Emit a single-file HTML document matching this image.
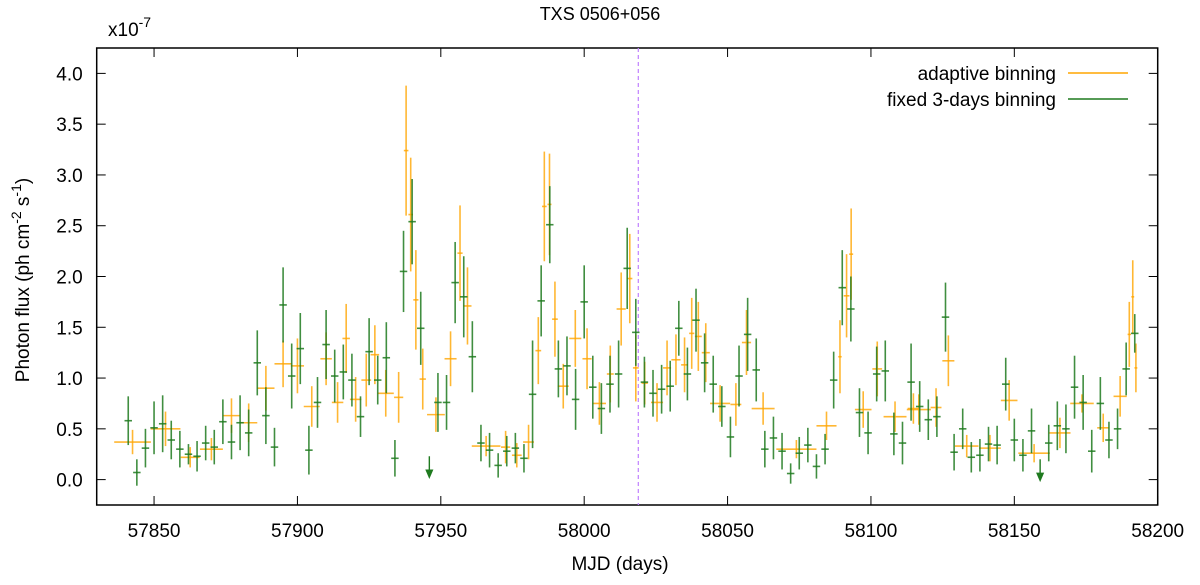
<!DOCTYPE html>
<html><head><meta charset="utf-8"><style>
body{margin:0;background:#fff;}
svg text{font-family:"Liberation Sans",sans-serif;fill:#000;}
</style></head><body>
<svg id="chart" width="1200" height="580" xmlns="http://www.w3.org/2000/svg">
<text x="600" y="20" text-anchor="middle" font-size="18">TXS 0506+056</text>
<text x="108" y="36" font-size="19">x10<tspan dy="-9" font-size="14">-7</tspan></text>
<text x="620" y="570" text-anchor="middle" font-size="19">MJD (days)</text>
<text transform="translate(29,280) rotate(-90)" text-anchor="middle" font-size="19">Photon flux (ph cm<tspan dy="-8" font-size="14">-2</tspan><tspan dy="8"> s</tspan><tspan dy="-8" font-size="14">-1</tspan><tspan dy="8">)</tspan></text>
<g id="axes"></g>
<g id="marks"></g>
<g>
<text x="1056" y="80" text-anchor="end" font-size="19">adaptive binning</text>
<line x1="1068" y1="73" x2="1128" y2="73" stroke="#ffa500" stroke-width="1.5"/>
<text x="1056" y="106" text-anchor="end" font-size="19">fixed 3-days binning</text>
<line x1="1068" y1="99" x2="1128" y2="99" stroke="#1f7a1f" stroke-width="1.5"/>
</g>
</svg>
<script>
const xTicks=[57850,57900,57950,58000,58050,58100,58150,58200];
const yTicks=[0,0.5,1,1.5,2,2.5,3,3.5,4];
const yTickLabels=["0.0","0.5","1.0","1.5","2.0","2.5","3.0","3.5","4.0"];
const eventMJD=58018.87;
// fixed 3-day bins: day, flux, error
const gDay=[57841,57844,57847,57850,57853,57856,57859,57862,57865,57868,57871,57874,57877,57880,57883,57886,57889,57892,57895,57898,57901,57904,57907,57910,57913,57916,57919,57922,57925,57928,57931,57934,57937,57940,57943,57949,57952,57955,57958,57961,57964,57967,57970,57973,57976,57979,57982,57985,57988,57991,57994,57997,58000,58003,58006,58009,58012,58015,58018,58021,58024,58027,58030,58033,58036,58039,58042,58045,58048,58051,58054,58057,58060,58063,58066,58069,58072,58075,58078,58081,58084,58087,58090,58093,58096,58099,58102,58105,58108,58111,58114,58117,58120,58123,58126,58129,58132,58135,58138,58141,58144,58147,58150,58153,58156,58162,58165,58168,58171,58174,58177,58180,58183,58186,58189,58192];
const gFlux=[0.58,0.07,0.31,0.51,0.55,0.39,0.30,0.25,0.23,0.36,0.32,0.57,0.37,0.56,0.46,1.15,0.63,0.32,1.72,1.02,1.29,0.29,0.76,1.33,1.02,1.06,0.98,0.62,1.26,0.98,1.20,0.21,2.05,2.54,1.49,0.76,0.76,1.94,1.80,1.21,0.36,0.29,0.14,0.28,0.31,0.21,0.84,1.76,2.51,1.09,1.12,0.79,1.75,0.91,0.70,0.94,1.04,2.08,1.45,0.96,0.85,0.89,0.92,1.49,1.04,1.57,1.15,0.94,0.72,0.42,1.02,1.43,1.08,0.30,0.41,0.28,0.06,0.26,0.34,0.13,0.30,0.98,1.89,1.68,0.66,0.46,1.04,1.07,0.45,0.36,0.96,0.72,0.59,0.62,1.60,0.27,0.50,0.22,0.24,0.35,0.34,0.94,0.39,0.24,0.48,0.36,0.53,0.50,0.91,0.76,0.28,0.75,0.39,0.50,1.09,1.44];
const gErr=[0.24,0.13,0.19,0.26,0.28,0.19,0.18,0.10,0.15,0.17,0.17,0.22,0.17,0.27,0.23,0.32,0.28,0.19,0.37,0.32,0.35,0.24,0.25,0.34,0.26,0.27,0.26,0.20,0.33,0.24,0.35,0.18,0.40,0.42,0.36,0.29,0.27,0.40,0.40,0.35,0.18,0.17,0.12,0.15,0.15,0.14,0.53,0.35,0.38,0.28,0.29,0.30,0.36,0.31,0.25,0.28,0.33,0.40,0.33,0.25,0.23,0.24,0.25,0.27,0.26,0.31,0.29,0.28,0.20,0.20,0.30,0.36,0.31,0.18,0.21,0.18,0.10,0.16,0.17,0.12,0.15,0.28,0.37,0.32,0.24,0.21,0.27,0.30,0.21,0.21,0.38,0.25,0.20,0.20,0.34,0.18,0.20,0.15,0.16,0.17,0.19,0.26,0.21,0.16,0.22,0.18,0.24,0.24,0.31,0.27,0.21,0.26,0.18,0.20,0.26,0.19];
// upper limits (fixed binning): day, flux
const ulDay=[57946,58159];
const ulFlux=[0.23,0.2];
// adaptive bins: center day, half width, flux, error
const oDay=[57842.5,57854,57862.6,57870,57877,57883,57889,57895,57900,57905,57910,57914,57917,57920.3,57924,57927,57930.8,57935.3,57937.9,57939.5,57941.3,57943.7,57948.3,57953.4,57956.7,57959.3,57965.8,57972.6,57976.5,57980.6,57984,57986.1,57987.9,57989.8,57992.7,57996.9,58001,58005.3,58009.1,58012.9,58015.9,58018,58021.1,58025.4,58028.9,58032,58035,58037.5,58039.8,58042.4,58047.4,58052.9,58056.6,58062.4,58074,58084.5,58089.2,58091.5,58093.1,58097.3,58102.2,58108.4,58114.8,58116.7,58122.7,58127,58133.4,58141.5,58148.2,58156.9,58165.9,58173.6,58181,58186.9,58190.1,58191.3,58192.4];
const oHalf=[6.4,5.2,3.3,4,3,3,3,3,2.3,2.8,2,2,1.3,2,1.7,1.5,2.8,1.6,0.8,0.8,0.9,1.1,3.1,2.1,0.9,1.4,5,1.6,1.7,1.9,1,0.8,0.7,1,1.9,2.1,1.6,2.3,1.2,1.6,0.9,1,1.1,2.1,1.4,1.6,1.2,0.9,1.2,1.4,3.5,1.9,1.6,4,7,3.5,0.6,1,0.7,2.9,1.7,4,2,4.2,1.9,2.1,4.1,3.8,2.9,5.5,3.7,4.1,2.1,2.3,0.6,0.5,0.5];
const oFlux=[0.37,0.50,0.22,0.30,0.63,0.56,0.90,1.14,1.12,0.72,1.19,0.76,1.39,0.79,0.98,1.23,0.85,0.81,3.24,2.61,1.77,0.99,0.64,1.19,2.23,1.71,0.33,0.32,0.24,0.37,1.27,2.69,2.71,1.58,0.92,1.39,1.19,0.75,1.04,1.68,1.98,1.10,0.95,0.76,1.10,1.18,1.13,1.44,1.41,1.25,0.75,0.74,1.35,0.70,0.30,0.53,1.21,1.81,2.22,0.69,1.09,0.62,0.70,0.69,0.71,1.17,0.33,0.31,0.78,0.26,0.46,0.75,0.51,0.82,1.43,1.80,1.10];
const oErr=[0.12,0.17,0.10,0.11,0.17,0.19,0.22,0.23,0.27,0.20,0.26,0.20,0.34,0.22,0.26,0.29,0.23,0.25,0.64,0.56,0.49,0.30,0.17,0.27,0.47,0.38,0.10,0.16,0.12,0.17,0.33,0.54,0.50,0.37,0.22,0.28,0.30,0.21,0.28,0.36,0.44,0.33,0.21,0.19,0.27,0.25,0.27,0.35,0.34,0.29,0.18,0.21,0.32,0.16,0.09,0.14,0.36,0.41,0.45,0.18,0.27,0.15,0.15,0.15,0.19,0.25,0.11,0.13,0.20,0.09,0.15,0.09,0.14,0.20,0.32,0.36,0.24];

const X0=96.7,X1=1157.7,Y0=505,Y1=48,XMIN=57830,XMAX=58200,YMIN=-0.25,YMAX=4.25;
const sx=d=>X0+(d-XMIN)/(XMAX-XMIN)*(X1-X0);
const sy=v=>Y0-(v-YMIN)/(YMAX-YMIN)*(Y0-Y1);
const NS="http://www.w3.org/2000/svg";
function mk(tag,parent,attrs){const e=document.createElementNS(NS,tag);for(const k in attrs)e.setAttribute(k,attrs[k]);parent.appendChild(e);return e;}
const axes=document.getElementById('axes'),marks=document.getElementById('marks');

xTicks.forEach(t=>{
  const x=sx(t);
  const a=mk('line',axes,{x1:x,x2:x,y1:Y0,y2:Y0-9,stroke:'#000','stroke-width':1});
  
  
  const b=mk('line',axes,{x1:x,x2:x,y1:Y1,y2:Y1+9,stroke:'#000','stroke-width':1});
  
  
  const l=mk('text',axes,{x:x,y:Y0+32,'text-anchor':'middle','font-size':19});
  l.textContent=String(t);
  
  
});
yTicks.forEach((t,i)=>{
  const y=sy(t);
  const a=mk('line',axes,{x1:X0,x2:X0+9,y1:y,y2:y,stroke:'#000','stroke-width':1});
  
  
  const b=mk('line',axes,{x1:X1-9,x2:X1,y1:y,y2:y,stroke:'#000','stroke-width':1});
  
  
  const l=mk('text',axes,{x:X0-14,y:y+7,'text-anchor':'end','font-size':19});
  l.textContent=yTickLabels[i];
  
  
});
const fr=mk('rect',axes,{x:X0,y:Y1,width:X1-X0,height:Y0-Y1,fill:'none',stroke:'#000','stroke-width':1.5});


const ev=mk('line',axes,{x1:sx(eventMJD),x2:sx(eventMJD),y1:Y1,y2:Y0,stroke:'#c080ff','stroke-width':1.2,'stroke-dasharray':'4,3'});



oDay.forEach((d,i)=>{
  const g=mk('g',marks,{stroke:'#ffa500','stroke-width':1.6,'stroke-opacity':0.8});
  
  
  mk('line',g,{x1:sx(d),x2:sx(d),y1:sy(oFlux[i]-oErr[i]),y2:sy(oFlux[i]+oErr[i])});
  mk('line',g,{x1:sx(d-oHalf[i]),x2:sx(d+oHalf[i]),y1:sy(oFlux[i]),y2:sy(oFlux[i])});
});
gDay.forEach((d,i)=>{
  const g=mk('g',marks,{stroke:'#1f7a1f','stroke-width':1.6,'stroke-opacity':0.85});
  
  
  mk('line',g,{x1:sx(d),x2:sx(d),y1:sy(gFlux[i]-gErr[i]),y2:sy(gFlux[i]+gErr[i])});
  mk('line',g,{x1:sx(d-1.3),x2:sx(d+1.3),y1:sy(gFlux[i]),y2:sy(gFlux[i])});
});
ulDay.forEach((d,i)=>{
  const g=mk('g',marks,{stroke:'#1f7a1f','stroke-width':1.4,fill:'#1f7a1f'});
  
  
  const x=sx(d),y=sy(ulFlux[i]);
  mk('line',g,{x1:x,x2:x,y1:y,y2:y+18});
  mk('path',g,{d:`M${x-3},${y+14} L${x+3},${y+14} L${x},${y+21} Z`});
});
</script>
</body></html>
